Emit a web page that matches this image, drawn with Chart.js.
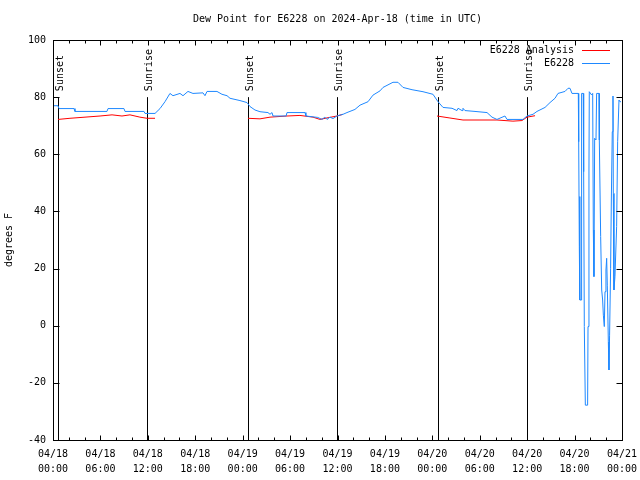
<!DOCTYPE html>
<html>
<head>
<meta charset="utf-8">
<script src="https://cdn.jsdelivr.net/npm/chart.js@4.4.1/dist/chart.umd.min.js"></script>
<style>
  html, body { margin: 0; padding: 0; background: #fff; }
</style>
</head>
<body>
<canvas id="dewPointChart" width="640" height="480"></canvas>
<script>
// hours since 2024-04-18 00:00 UTC
const analysisHours = [0.63, 2.15, 4.05, 5.95, 7.47, 8.73, 9.74, 11.0, 11.9, 12.91, 13.0,
    24.67, 26.19, 27.46, 29.61, 31.25, 32.9, 33.78, 34.8, 35.93, 36.7, 36.8,
    48.59, 50.23, 51.88, 54.03, 56.18, 58.2, 59.34, 59.98, 61.0];
const analysisValues = [72.2, 72.6, 73.0, 73.4, 73.8, 73.4, 73.8, 73.0, 72.6, 72.6, null,
    72.6, 72.4, 73.0, 73.4, 73.6, 73.0, 72.2, 72.8, 73.4, 74.0, null,
    73.4, 72.7, 72.0, 72.0, 72.0, 71.6, 71.8, 73.0, 73.5];

const obsHours = [0.0, 0.63, 0.76, 2.66, 2.78, 6.83, 6.96, 8.98, 9.11, 11.51, 11.64, 12.91,
    13.54, 14.17, 14.80, 15.18, 16.07, 16.45, 17.08, 17.71, 18.98, 19.23, 19.49, 20.75,
    21.38, 22.02, 22.40, 23.66, 24.55, 24.93, 25.56, 26.19, 27.2, 27.46, 27.71, 27.84,
    29.5, 29.61, 31.89, 32.0, 33.5, 34.04, 34.4, 34.67, 35.05, 35.43, 35.93, 36.7,
    37.2, 38.21, 38.85, 39.86, 40.49, 41.38, 41.76, 43.02, 43.65, 44.29, 45.43, 46.82,
    48.08, 48.72, 49.35, 50.49, 51.12, 51.25, 51.76, 51.88, 52.13, 53.4, 54.92, 55.55,
    56.18, 57.19, 57.45, 59.47, 59.98, 60.74, 61.24, 62.26, 62.89, 63.52, 63.9, 64.79,
    65.17, 65.42, 65.67, 66.47, 66.52, 66.6, 66.64, 66.68, 66.85, 66.89, 67.1, 67.15,
    67.23, 67.36, 67.65, 67.7, 67.82, 67.86, 68.16, 68.29, 68.37, 68.45, 68.54, 68.71,
    68.79, 69.09, 69.13, 69.3, 69.43, 69.55, 69.64, 69.76, 69.85, 69.97, 70.06, 70.14,
    70.27, 70.35, 70.43, 70.56, 70.65, 70.77, 70.86, 70.9, 70.98, 71.11, 71.32, 71.45,
    71.62, 71.74, 71.87];
const obsValues = [77, 77, 76, 76, 75, 75, 76, 76, 75, 75, 74.3, 74.3,
    76, 78.4, 81.3, 80.5, 81.3, 80.5, 82, 81.3, 81.5, 80.5, 82, 82,
    81, 80.5, 79.6, 78.8, 78.1, 76.7, 75.5, 74.9, 74.6, 74, 74.6, 73.4,
    73.4, 74.6, 74.6, 73.4, 72.9, 72.2, 73, 72.2, 73, 72.5, 73.4, 74,
    74.6, 75.7, 77.2, 78.4, 80.7, 82.2, 83.4, 85.2, 85.2, 83.4, 82.6, 81.9,
    81, 78.4, 76.4, 76.1, 75.3, 76.1, 75.3, 76.1, 75.3, 75, 74.6, 73,
    72.2, 73.4, 72.2, 72.2, 73.4, 74, 75, 76.4, 78.1, 79.6, 81.3, 82,
    83.1, 83.1, 81.3, 81.3, 64.4, 27.7, 45.2, 9, 9, 81.3, 81.3, 53.9,
    -0.3, -27.8, -27.8, -0.3, 54.5, 81.9, 80.75, 81.3, 33.5, 17.2, 65.6, 65,
    81.3, 81.3, 65, 31.2, 12.5, 9, 3.7, -0.3, 11.9, 19.5, 23.6, 14.2,
    -5.6, -15.5, -3.3, 20.1, 44, 67.9, 80.4, 46.3, 12.5, 17.2, 34.7, 64.4,
    79, 78.4, 78.4];

const sunHours = [0.67, 11.93, 24.71, 35.9, 48.75, 59.94];
const sunLabels = ['Sunset', 'Sunrise', 'Sunset', 'Sunrise', 'Sunset', 'Sunrise'];

const chartTitle = 'Dew Point for E6228 on 2024-Apr-18 (time in UTC)';
const seriesNames = ['E6228 Analysis', 'E6228'];
const seriesColors = ['#ff0000', '#1e88ff'];

const fontFamily = "'DejaVu Sans Mono', 'Liberation Mono', monospace";
const monoFont = { family: fontFamily, size: 10 };

function toPoints(xs, ys) {
    return xs.map((h, i) => ({ x: h, y: ys[i] }));
}

const gnuplotFrame = {
    id: 'gnuplotFrame',
    beforeDatasetsDraw(chart) {
        const { ctx, chartArea: a, scales: { x, y } } = chart;
        ctx.save();
        ctx.strokeStyle = '#000';
        ctx.lineWidth = 1;
        ctx.fillStyle = '#000';
        ctx.font = '10px ' + fontFamily;

        // title, centred over the plot area
        ctx.textAlign = 'center';
        ctx.textBaseline = 'middle';
        ctx.fillText(chartTitle, (a.left + a.right) / 2, 19);

        const top = y.getPixelForValue(80);
        sunHours.forEach((h, i) => {
            const px = Math.round(x.getPixelForValue(h)) + 0.5;
            ctx.beginPath();
            ctx.moveTo(px, top);
            ctx.lineTo(px, a.bottom);
            ctx.stroke();
            ctx.save();
            ctx.translate(px + 1.5, top - 6);
            ctx.rotate(-Math.PI / 2);
            ctx.textAlign = 'left';
            ctx.textBaseline = 'middle';
            ctx.fillText(sunLabels[i], 0, 0);
            ctx.restore();
        });
        ctx.restore();
    },
    afterDatasetsDraw(chart) {
        const { ctx, chartArea: a, scales: { x, y } } = chart;
        ctx.save();
        ctx.strokeStyle = '#000';
        ctx.lineWidth = 1;
        const L = Math.round(a.left) + 0.5, R = Math.round(a.right) + 0.5;
        const T = Math.round(a.top) + 0.5, B = Math.round(a.bottom) + 0.5;
        ctx.strokeRect(L, T, R - L, B - T);
        ctx.beginPath();
        for (let h = 2; h < 72; h += 2) {
            const px = Math.round(x.getPixelForValue(h)) + 0.5;
            const len = h % 6 === 0 ? 5 : 3;
            ctx.moveTo(px, B); ctx.lineTo(px, B - len);
            ctx.moveTo(px, T); ctx.lineTo(px, T + len);
        }
        for (let v = -20; v < 100; v += 20) {
            const py = Math.round(y.getPixelForValue(v)) + 0.5;
            ctx.moveTo(L, py); ctx.lineTo(L + 6, py);
            ctx.moveTo(R, py); ctx.lineTo(R - 6, py);
        }
        ctx.stroke();

        // key, gnuplot style: text then line sample
        ctx.font = '10px ' + fontFamily;
        ctx.textAlign = 'right';
        ctx.textBaseline = 'middle';
        seriesNames.forEach((name, i) => {
            const py = a.top + 9.5 + i * 13.5;
            ctx.fillStyle = '#000';
            ctx.fillText(name, a.right - 48, py + 0.5);
            ctx.strokeStyle = seriesColors[i];
            ctx.beginPath();
            ctx.moveTo(a.right - 40, Math.round(py) + 0.5);
            ctx.lineTo(a.right - 12, Math.round(py) + 0.5);
            ctx.stroke();
        });
        ctx.restore();
    }
};

const chart = new Chart(document.getElementById('dewPointChart'), {
    type: 'line',
    data: {
        datasets: [{
            label: seriesNames[0],
            data: toPoints(analysisHours, analysisValues),
            borderColor: seriesColors[0],
            borderWidth: 1,
            pointRadius: 0,
            spanGaps: false,
            order: 2
        }, {
            label: seriesNames[1],
            data: toPoints(obsHours, obsValues),
            borderColor: seriesColors[1],
            borderWidth: 1,
            pointRadius: 0,
            order: 1
        }]
    },
    options: {
        responsive: false,
        animation: false,
        devicePixelRatio: 1,
        layout: { padding: { left: 0, right: 18, top: 40, bottom: 0 } },
        scales: {
            x: {
                type: 'linear',
                min: 0,
                max: 72,
                grid: { display: false, drawTicks: false },
                border: { display: false },
                ticks: {
                    stepSize: 6,
                    autoSkip: false,
                    maxRotation: 0,
                    padding: 7,
                    color: '#000',
                    font: { ...monoFont, lineHeight: 1.5 },
                    callback: function (value) {
                        const day = 18 + Math.floor(value / 24);
                        const hr = value % 24;
                        return ['04/' + day, String(hr).padStart(2, '0') + ':00'];
                    }
                },
                afterFit: function (scale) {
                    scale.height = 40;
                    scale.paddingLeft = 0;
                    scale.paddingRight = 0;
                }
            },
            y: {
                min: -40,
                max: 100,
                grid: { display: false, drawTicks: false },
                border: { display: false },
                ticks: { stepSize: 20, padding: 7, color: '#000', font: monoFont },
                title: {
                    display: true,
                    text: 'degrees F',
                    color: '#000',
                    font: monoFont,
                    padding: { top: 3, bottom: 0 }
                },
                afterFit: function (scale) {
                    scale.width = 53;
                    scale.paddingTop = 0;
                    scale.paddingBottom = 0;
                }
            }
        },
        plugins: {
            legend: { display: false },
            tooltip: { enabled: false },
            title: { display: false }
        }
    },
    plugins: [gnuplotFrame]
});
</script>
</body>
</html>
